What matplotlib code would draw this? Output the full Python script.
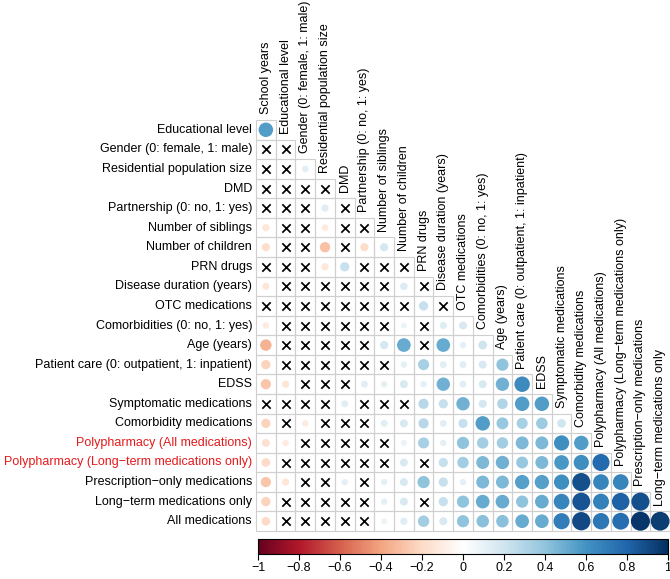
import numpy as np
import matplotlib
matplotlib.use('Agg')
import matplotlib.pyplot as plt
from matplotlib.colors import LinearSegmentedColormap, Normalize
from matplotlib.patches import Rectangle
from matplotlib.cm import ScalarMappable

plt.rcParams['font.family'] = ['Liberation Sans', 'DejaVu Sans']

# variables in matrix order
col_labels = ['School years', 'Educational level', 'Gender (0: female, 1: male)',
              'Residential population size', 'DMD', 'Partnership (0: no, 1: yes)',
              'Number of siblings', 'Number of children', 'PRN drugs',
              'Disease duration (years)', 'OTC medications', 'Comorbidities (0: no, 1: yes)',
              'Age (years)', 'Patient care (0: outpatient, 1: inpatient)', 'EDSS',
              'Symptomatic medications', 'Comorbidity medications',
              'Polypharmacy (All medications)', 'Polypharmacy (Long\u2212term medications only)',
              'Prescription\u2212only medications', 'Long\u2212term medications only']
row_labels = col_labels[1:] + ['All medications']
red_rows = ['Polypharmacy (All medications)', 'Polypharmacy (Long\u2212term medications only)']

X = None  # not significant -> cross
corr = [
    [0.56],
    [X, X],
    [X, X, 0.12],
    [X, X, X, X],
    [X, X, X, 0.14, X],
    [-0.14, X, X, -0.12, X, X],
    [-0.18, X, X, -0.29, X, -0.18, 0.18],
    [X, X, X, -0.14, 0.23, X, X, X],
    [-0.14, X, X, X, X, X, X, 0.15, X],
    [X, X, X, X, X, X, X, X, 0.23, X],
    [-0.11, X, X, X, X, X, X, 0.09, X, 0.14, 0.17],
    [-0.35, X, X, X, X, X, 0.18, 0.50, X, 0.50, 0.11, 0.21],
    [-0.23, X, X, X, X, X, X, 0.11, 0.33, 0.13, 0.13, 0.17, 0.40],
    [-0.28, -0.14, X, X, X, 0.13, 0.11, 0.17, 0.11, 0.48, 0.13, 0.17, 0.48, 0.64],
    [X, X, X, X, 0.13, X, X, X, 0.28, 0.23, 0.48, 0.18, 0.30, 0.56, 0.56],
    [-0.23, X, -0.11, X, X, X, 0.13, 0.17, 0.28, 0.13, 0.23, 0.56, 0.38, 0.33, 0.36, 0.20],
    [-0.17, -0.11, X, X, X, X, X, 0.09, 0.33, 0.11, 0.40, 0.35, 0.35, 0.45, 0.45, 0.62, 0.56],
    [-0.20, X, X, X, X, X, X, 0.17, X, 0.23, 0.35, 0.45, 0.48, 0.38, 0.45, 0.58, 0.62, 0.78],
    [-0.28, -0.14, X, X, 0.11, X, 0.11, 0.17, 0.40, 0.23, 0.11, 0.45, 0.45, 0.55, 0.55, 0.62, 0.88, 0.66, 0.66],
    [-0.23, X, X, X, X, X, 0.11, 0.17, X, 0.23, 0.40, 0.50, 0.50, 0.40, 0.50, 0.66, 0.86, 0.68, 0.82, 0.88],
    [-0.20, X, X, X, X, X, 0.09, 0.14, 0.35, 0.17, 0.40, 0.42, 0.42, 0.50, 0.50, 0.70, 0.90, 0.72, 0.76, 0.97, 0.95],
]
cbar_ticks = [-1, -0.8, -0.6, -0.4, -0.2, 0, 0.2, 0.4, 0.6, 0.8, 1]

# corrplot's RdBu palette
cmap = LinearSegmentedColormap.from_list('corrRdBu', [
    '#67001F', '#B2182B', '#D6604D', '#F4A582', '#FDDBC7', '#FFFFFF',
    '#D1E5F0', '#92C5DE', '#4393C3', '#2166AC', '#053061'])
norm = Normalize(-1, 1)

W, H = 670, 579
fig = plt.figure(figsize=(W / 100, H / 100), dpi=100)
ax = fig.add_axes([256 / W, 1 - 531 / H, 414 / W, 411 / H])
n = len(row_labels)
ax.set_xlim(0.5, n + 0.5)
ax.set_ylim(n + 0.5, 0.5)
ax.axis('off')
cell_px = 414 / n

xs, ys, vals, cx, cy = [], [], [], [], []
for i, row in enumerate(corr, start=1):
    for j, v in enumerate(row, start=1):
        ax.add_patch(Rectangle((j - 0.5, i - 0.5), 1, 1, fill=False,
                               edgecolor='#cfcfcf', lw=0.8, clip_on=False))
        if v is None:
            cx.append(j); cy.append(i)
        else:
            xs.append(j); ys.append(i); vals.append(v)

vals = np.array(vals)
sizes = (np.sqrt(np.abs(vals)) * cell_px * 0.98 * 0.72) ** 2
ax.scatter(xs, ys, s=sizes, c=vals, cmap=cmap, norm=norm, edgecolors='none',
           clip_on=False, zorder=3)
ax.scatter(cx, cy, s=36, marker='x', c='black', linewidths=1.25, clip_on=False, zorder=3)

# row labels
for i, lab in enumerate(row_labels, start=1):
    ax.text(0.3, i, lab, ha='right', va='center', fontsize=9,
            color='#E41A1C' if lab in red_rows else 'black')

# column labels on the diagonal
for j, lab in enumerate(col_labels, start=1):
    ax.text(j, j - 1 + 0.2, lab, rotation=90, rotation_mode='anchor',
            ha='left', va='center', fontsize=9)

# colour bar
cax = fig.add_axes([258 / W, 1 - 554 / H, 410 / W, 15 / H])
cb = fig.colorbar(ScalarMappable(norm=norm, cmap=cmap), cax=cax, orientation='horizontal')
cb.set_ticks(cbar_ticks)
cb.set_ticklabels(['1' if t == 1 else '0' if t == 0 else '\u22121' if t == -1
                   else f'{t:.1f}'.replace('-', '\u2212') for t in cbar_ticks])
cax.tick_params(length=4, width=0.8, labelsize=9, pad=2)
cb.outline.set_linewidth(0.8)

fig.savefig('out.png', dpi=100)
